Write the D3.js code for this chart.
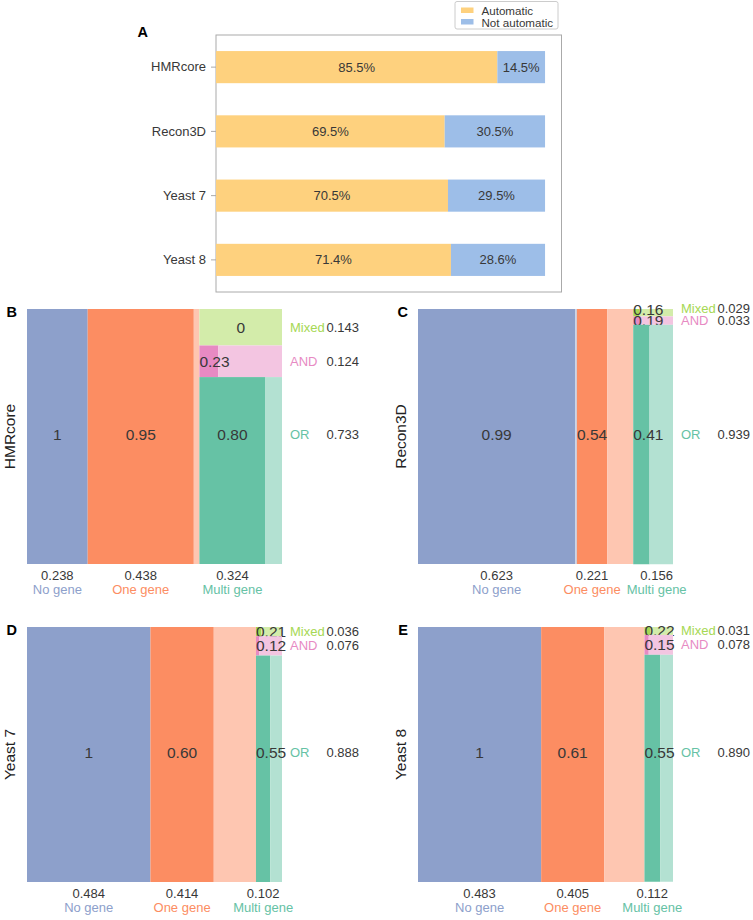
<!DOCTYPE html>
<html>
<head>
<meta charset="utf-8">
<script src="https://cdn.jsdelivr.net/npm/d3@7"></script>
<style>
  body { margin: 0; background: #fff; }
  text { font-family: "Liberation Sans", Arial, sans-serif; }
</style>
</head>
<body>
<script>
// ---------- Data ----------
const models = ["HMRcore", "Recon3D", "Yeast 7", "Yeast 8"];
const automatic = [85.5, 69.5, 70.5, 71.4];
const notAutomatic = [14.5, 30.5, 29.5, 28.6];
const legendLabels = ["Automatic", "Not automatic"];

const geneCats = ["No gene", "One gene", "Multi gene"];
const geneFrac = [
  [0.238, 0.438, 0.324],
  [0.623, 0.221, 0.156],
  [0.484, 0.414, 0.102],
  [0.483, 0.405, 0.112]
];
const geneAuto = [
  [1, 0.95],
  [0.99, 0.54],
  [1, 0.60],
  [1, 0.61]
];
const ruleCats = ["Mixed", "AND", "OR"];
const ruleFrac = [
  [0.143, 0.124, 0.733],
  [0.029, 0.033, 0.939],
  [0.036, 0.076, 0.888],
  [0.031, 0.078, 0.890]
];
const ruleAuto = [
  [0, 0.23, 0.80],
  [0.16, 0.19, 0.41],
  [0.21, 0.12, 0.55],
  [0.22, 0.15, 0.55]
];
const panelLetters = ["B", "C", "D", "E"];

// ---------- Styles ----------
const cAuto = "#fed17e", cNot = "#9dbee8";
const geneColors = ["#8da0cb", "#fc8d62", "#66c2a5"];
const ruleColors = ["#a6d854", "#e78ac3", "#66c2a5"];
const txt = "#383838";
const lighten = c => d3.interpolateRgb(c, "#ffffff")(0.5);

const svg = d3.select("body").append("svg").attr("width", 753).attr("height", 920);

// ---------- Panel A ----------
const ax = d3.scaleLinear().domain([0, 105]).range([216, 561.5]);
const ay = d3.scaleBand().domain(models).range([35, 292]).paddingInner(0.5).paddingOuter(0.25);
const gA = svg.append("g");
gA.append("rect").attr("x", 216).attr("y", 35).attr("width", 345.5).attr("height", 257)
  .attr("fill", "none").attr("stroke", "#aaaaaa").attr("stroke-width", 1);
const yAxis = gA.append("g").attr("transform", "translate(216,0)")
  .call(d3.axisLeft(ay).tickSize(5).tickPadding(5));
yAxis.select(".domain").remove();
yAxis.selectAll("line").attr("stroke", "#aaaaaa");
yAxis.selectAll("text").attr("font-size", 13).attr("fill", txt)
  .style("font-family", "'Liberation Sans', Arial, sans-serif");

models.forEach((m, i) => {
  const a = automatic[i], n = notAutomatic[i];
  gA.append("rect").attr("x", ax(0)).attr("y", ay(m)).attr("width", ax(a) - ax(0))
    .attr("height", ay.bandwidth()).attr("fill", cAuto);
  gA.append("rect").attr("x", ax(a)).attr("y", ay(m)).attr("width", ax(a + n) - ax(a))
    .attr("height", ay.bandwidth()).attr("fill", cNot);
  gA.append("text").attr("x", (ax(0) + ax(a)) / 2).attr("y", ay(m) + ay.bandwidth() / 2)
    .attr("text-anchor", "middle").attr("dominant-baseline", "central")
    .attr("font-size", 13).attr("fill", txt).text(a.toFixed(1) + "%");
  gA.append("text").attr("x", (ax(a) + ax(a + n)) / 2).attr("y", ay(m) + ay.bandwidth() / 2)
    .attr("text-anchor", "middle").attr("dominant-baseline", "central")
    .attr("font-size", 13).attr("fill", txt).text(n.toFixed(1) + "%");
});
gA.append("text").attr("x", 148).attr("y", 37).attr("text-anchor", "end")
  .attr("font-size", 14.5).attr("font-weight", "bold").attr("fill", "#000").text("A");

// legend
const lg = svg.append("g");
lg.append("rect").attr("x", 455).attr("y", 1.5).attr("width", 103).attr("height", 27.5)
  .attr("rx", 2).attr("fill", "#fff").attr("stroke", "#cccccc");
[cAuto, cNot].forEach((c, i) => {
  lg.append("rect").attr("x", 461).attr("y", 7.5 + i * 11.5).attr("width", 12.5).attr("height", 5.5).attr("fill", c);
  lg.append("text").attr("x", 481.5).attr("y", 10.5 + i * 11.5).attr("dominant-baseline", "central")
    .attr("font-size", 11.6).attr("fill", txt).text(legendLabels[i]);
});

// ---------- Mosaic panels ----------
const fmt = v => (v === 1 || v === 0) ? String(v) : v.toFixed(2);
const origins = [[27, 309], [418, 309], [27, 627], [418, 627]];
const size = 255;

models.forEach((m, pi) => {
  const [x0, y0] = origins[pi];
  const xs = d3.scaleLinear().domain([0, 1]).range([x0, x0 + size]);
  const ys = d3.scaleLinear().domain([0, 1]).range([y0, y0 + size]);
  const g = svg.append("g");
  const yMid = (ys(0) + ys(1)) / 2 - 2;

  const gStarts = d3.cumsum([0].concat(geneFrac[pi])).slice(0, 3);
  const bottomX = [];

  geneCats.forEach((gc, ci) => {
    const s = gStarts[ci], f = geneFrac[pi][ci];
    if (ci < 2) {
      const au = geneAuto[pi][ci];
      g.append("rect").attr("x", xs(s)).attr("y", ys(0)).attr("width", xs(s + f * au) - xs(s))
        .attr("height", ys(1) - ys(0)).attr("fill", geneColors[ci]);
      g.append("rect").attr("x", xs(s + f * au)).attr("y", ys(0)).attr("width", xs(s + f) - xs(s + f * au))
        .attr("height", ys(1) - ys(0)).attr("fill", lighten(geneColors[ci]));
      const t = g.append("text").attr("y", yMid).attr("text-anchor", "middle")
        .attr("dominant-baseline", "central").attr("font-size", 15.5).attr("fill", txt).text(fmt(au));
      const w = t.node().getComputedTextLength();
      let cx = au === 0 ? (xs(s) + xs(s + f)) / 2 : (xs(s) + xs(s + f * au)) / 2;
      if (cx - w / 2 < xs(s)) cx = xs(s) + w / 2;
      t.attr("x", cx);
      bottomX.push((xs(s) + xs(s + f * au)) / 2);
    } else {
      const rStarts = d3.cumsum([0].concat(ruleFrac[pi])).slice(0, 3);
      const cellLabels = [], rightY = [];
      ruleCats.forEach((rc, ri) => {
        const rs = rStarts[ri], rf = ruleFrac[pi][ri], ra = ruleAuto[pi][ri];
        g.append("rect").attr("x", xs(s)).attr("y", ys(rs)).attr("width", xs(s + f * ra) - xs(s))
          .attr("height", ys(rs + rf) - ys(rs)).attr("fill", ruleColors[ri]);
        g.append("rect").attr("x", xs(s + f * ra)).attr("y", ys(rs)).attr("width", xs(s + f) - xs(s + f * ra))
          .attr("height", ys(rs + rf) - ys(rs)).attr("fill", lighten(ruleColors[ri]));
        const t = g.append("text").attr("text-anchor", "middle")
          .attr("dominant-baseline", "central").attr("font-size", 15.5).attr("fill", txt).text(fmt(ra));
        const w = t.node().getComputedTextLength();
        let cx = ra === 0 ? (xs(s) + xs(s + f)) / 2 : (xs(s) + xs(s + f * ra)) / 2;
        if (cx - w / 2 < xs(s)) cx = xs(s) + w / 2;
        t.attr("x", cx);
        const cy = ri === 2 ? yMid : (ys(rs) + ys(rs + rf)) / 2;
        cellLabels.push({ t, y: cy });
        rightY.push(cy);
        if (ri === 2) bottomX.push((xs(s) + xs(s + f * ra)) / 2);
      });
      // vertical de-overlap, sweeping from bottom to top
      const cy = cellLabels.map(d => d.y);
      for (let k = cy.length - 2; k >= 0; k--) cy[k] = Math.min(cy[k], cy[k + 1] - 11.5);
      cellLabels.forEach((d, k) => d.t.attr("y", cy[k]));
      const ry = rightY.slice();
      for (let k = ry.length - 2; k >= 0; k--) ry[k] = Math.min(ry[k], ry[k + 1] - 12.5);
      ruleCats.forEach((rc, ri) => {
        g.append("text").attr("x", xs(1) + 8).attr("y", ry[ri]).attr("dominant-baseline", "central")
          .attr("font-size", 13).attr("fill", ruleColors[ri]).text(rc);
        g.append("text").attr("x", xs(1) + 77).attr("y", ry[ri]).attr("text-anchor", "end")
          .attr("dominant-baseline", "central").attr("font-size", 13).attr("fill", txt)
          .text(ruleFrac[pi][ri].toFixed(3));
      });
    }
  });

  // bottom labels with horizontal de-overlap
  const names = geneCats.map((gc, ci) => g.append("text").attr("y", ys(1) + 25)
    .attr("text-anchor", "middle").attr("dominant-baseline", "central")
    .attr("font-size", 13).attr("fill", geneColors[ci]).text(gc));
  const widths = names.map(n => n.node().getComputedTextLength());
  const bx = bottomX.slice();
  for (let k = 1; k < bx.length; k++) {
    const minX = bx[k - 1] + widths[k - 1] / 2 + 6 + widths[k] / 2;
    if (bx[k] < minX) bx[k] = minX;
  }
  names.forEach((n, ci) => n.attr("x", bx[ci]));
  geneCats.forEach((gc, ci) => {
    g.append("text").attr("x", bx[ci]).attr("y", ys(1) + 11.5).attr("text-anchor", "middle")
      .attr("dominant-baseline", "central").attr("font-size", 13).attr("fill", txt)
      .text(geneFrac[pi][ci].toFixed(3));
  });

  // model name (y label)
  g.append("text").attr("transform", `translate(${x0 - 18},${(ys(0) + ys(1)) / 2}) rotate(-90)`)
    .attr("text-anchor", "middle").attr("dominant-baseline", "central")
    .attr("font-size", 15.5).attr("fill", "#222").text(m);
  // panel letter
  g.append("text").attr("x", x0 - 10).attr("y", y0 + 8).attr("text-anchor", "end")
    .attr("font-size", 14.5).attr("font-weight", "bold").attr("fill", "#000").text(panelLetters[pi]);
});
</script>
</body>
</html>
